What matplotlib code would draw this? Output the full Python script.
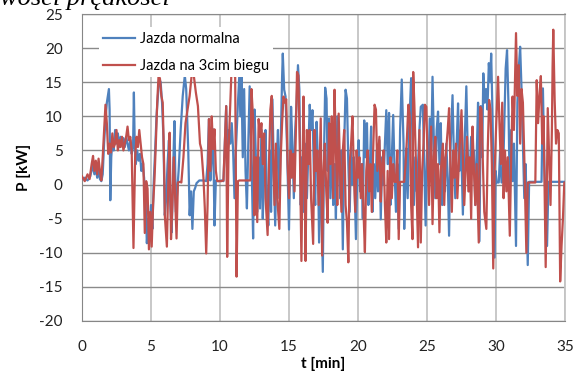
import matplotlib
matplotlib.use("Agg")
import matplotlib.pyplot as plt

plt.rcParams['font.family'] = ['Lato', 'DejaVu Sans']
plt.rcParams['axes.unicode_minus'] = False

# Jazda normalna (t [min], P [kW])
t_normal = [0.0, 0.2, 0.4, 0.6, 0.75, 0.9, 1.0, 1.1, 1.2, 1.3, 1.4, 1.5, 1.6, 1.7, 1.8, 1.95, 2.0, 2.05,
            2.12, 2.2, 2.3, 2.4, 2.5, 2.6, 2.7, 2.8, 2.9, 3.0, 3.1, 3.2, 3.3, 3.4, 3.5, 3.6, 3.7, 3.76,
            3.82, 3.9, 4.0, 4.1, 4.2, 4.3, 4.4, 4.5, 4.6, 4.7, 4.8, 4.9, 5.0, 5.1, 5.2, 5.3, 5.4, 5.5,
            5.6, 5.7, 5.8, 5.9, 6.0, 6.1, 6.2, 6.3, 6.4, 6.5, 6.6, 6.7, 6.8, 6.9, 7.0, 7.15, 7.3, 7.45,
            7.55, 7.7, 7.8, 7.9, 8.0, 8.1, 8.2, 8.3, 8.5, 8.8, 9.0, 9.1, 9.2, 9.3, 9.4, 9.5, 9.6, 9.7,
            9.9, 10.1, 10.25, 10.35, 10.45, 10.55, 10.65, 10.75, 10.85, 10.95, 11.05, 11.15, 11.3,
            11.4, 11.5, 11.55, 11.65, 11.75, 11.85, 11.95, 12.05, 12.15, 12.3, 12.4, 12.5, 12.6, 12.7,
            12.8, 12.9, 13.0, 13.1, 13.2, 13.3, 13.4, 13.5, 13.6, 13.7, 13.8, 13.9, 14.0, 14.1, 14.2,
            14.3, 14.4, 14.5, 14.55, 14.65, 14.75, 14.85, 15.0, 15.07, 15.15, 15.25, 15.35, 15.45,
            15.55, 15.65, 15.75, 15.85, 15.95, 16.05, 16.15, 16.3, 16.4, 16.5, 16.6, 16.7, 16.8, 16.9,
            17.0, 17.1, 17.18, 17.28, 17.45, 17.55, 17.62, 17.72, 17.8, 17.9, 18.0, 18.1, 18.2, 18.3,
            18.4, 18.5, 18.6, 18.7, 18.8, 18.9, 19.0, 19.1, 19.2, 19.3, 19.4, 19.5, 19.6, 19.7, 19.85,
            19.95, 20.05, 20.15, 20.25, 20.35, 20.45, 20.55, 20.65, 20.75, 20.85, 20.95, 21.05, 21.15,
            21.25, 21.35, 21.45, 21.55, 21.65, 21.75, 21.85, 21.95, 22.05, 22.15, 22.25, 22.35, 22.45,
            22.55, 22.65, 22.75, 22.85, 22.95, 23.05, 23.17, 23.3, 23.35, 23.45, 23.5, 23.6, 23.7,
            23.85, 23.95, 24.05, 24.15, 24.25, 24.35, 24.45, 24.55, 24.7, 24.8, 24.9, 25.0, 25.1, 25.2,
            25.3, 25.4, 25.5, 25.6, 25.7, 25.8, 25.9, 26.0, 26.1, 26.2, 26.3, 26.4, 26.5, 26.6, 26.7,
            26.85, 26.95, 27.05, 27.15, 27.25, 27.35, 27.45, 27.6, 27.7, 27.85, 27.95, 28.05, 28.2,
            28.3, 28.4, 28.5, 28.6, 28.7, 28.8, 28.9, 29.0, 29.08, 29.18, 29.28, 29.38, 29.48, 29.58,
            29.65, 29.75, 29.9, 29.97, 30.05, 30.2, 30.3, 30.4, 30.5, 30.6, 30.7, 30.8, 30.9, 31.0,
            31.1, 31.2, 31.3, 31.45, 31.55, 31.65, 31.75, 31.85, 31.95, 32.05, 32.15, 32.3, 32.4,
            32.6, 32.8, 33.0, 33.2, 33.3, 33.4, 33.5, 33.7, 33.8, 34.0, 34.3, 34.6, 35.0]
p_normal = [0.8, 1.0, 0.6, 1.2, 2.8, 1.5, 2.5, 1.0, 2.0, 0.8, 0.5, 1.5, 6.0, 9.5, 12.0, 14.0, 11.0, -2.3,
            4.0, 6.5, 5.0, 8.0, 6.0, 7.5, 5.5, 7.0, 6.0, 6.8, 5.5, 7.0, 6.0, 5.0, 6.5, 4.5, 5.5, 13.5,
            6.0, 3.0, 5.0, 3.5, 4.5, 2.0, 3.0, 1.0, -2.0, -8.6, -5.0, -7.0, -3.0, -6.5, 0.5, 5.0, 10.0, 13.0,
            15.5, 15.0, 12.0, 7.0, -4.5, -2.0, 3.0, 6.5, -3.0, -7.0, 2.0, 9.3, -4.0, -1.0, 2.0, 8.0, 13.0, 16.0,
            14.0, 5.0, -4.5, -1.0, -6.5, -1.0, -0.5, 0.2, 0.6, 0.6, 0.5, 3.0, 9.6, 0.6, 4.0, 8.1, -6.0, 0.6,
            0.5, 0.6, 0.5, 6.0, 11.5, 4.0, 8.0, 6.0, 9.0, 5.0, -2.0, 5.0, 12.0,
            16.0, 10.0, 15.8, 4.0, 14.0, 2.0, -3.5, 6.0, 14.4, 2.0, -7.9, 11.0, 4.0, -4.0,
            4.0, -3.5, 8.0, -5.0, 2.0, 8.0, -2.0, -6.0, 5.0, -4.0, 12.5, 2.0, -6.0, 3.0, 8.0,
            -2.0, 6.0, 15.8, 19.2, 13.9, 12.9, 6.0, -6.6, 1.6, 11.4, 5.5, -2.0, 8.0,
            12.0, 17.5, 14.0, -3.0, 4.0, -4.0, 6.0, -2.0, 5.0, 11.7, 8.0, 10.9, 2.0, -3.0,
            9.2, 3.0, -8.5, 4.0, -12.8, 6.0, 14.2, 12.6, 2.0, 9.7, -2.0, 8.0, -3.0, 3.0,
            -5.0, 10.0, 4.0, -2.0, 5.0, -9.5, 6.0, 13.9, 12.6, 3.0, -4.0, 5.5, 0.0, 4.0, -8.0,
            2.0, 6.5, -1.0, 3.0, -5.0, 9.4, 4.0, 9.0, -3.0, 2.0, 8.5, -4.0, 3.0,
            -2.0, 5.0, -1.0, 6.5, -5.1, 4.0, 0.0, 6.0, 10.9, 3.0, 10.5, -3.0, 4.0,
            10.2, 2.0, -4.0, 3.0, -6.5, 8.0, 15.4, 6.0, -6.5, 2.0, 5.3, -2.0, 8.0,
            15.6, 6.0, -3.0, 4.0, -1.0, 3.0, 8.0, 11.4, 11.7, 3.0, -6.0, 5.0, 2.0, 9.7,
            4.0, 15.8, 6.0, -2.0, 8.0, 10.7, 3.0, 9.0, -3.0, 4.0, -1.0, 6.0, 1.0, -7.5, 5.0,
            13.1, 4.0, -2.0, 6.0, 11.9, 2.0, 8.0, -4.4, 4.0, 14.4, 5.0, -1.0, 7.0,
            2.0, 5.0, -3.0, 4.0, 12.0, -8.3, 11.5, 4.0, 16.3, 12.0, 14.0, 11.0, 17.8, 15.0,
            19.2, 10.0, -10.7, 2.0, 0.3, 0.3, 5.0, 0.3, 0.4, 9.0, 17.0, 19.7, 12.0, -2.0,
            8.0, 0.5, 6.0, -9.0, 12.0, 17.0, 20.2, 14.0, 6.0, -2.0, 3.0, -11.8, 0.4,
            0.4, 0.4, 0.4, 0.4, 0.4, 14.1, 3.0, -9.0, 0.4, 0.4, 0.4, 0.4, 0.4]

# Jazda na 3cim biegu (t [min], P [kW])
t_third = [0.0, 0.2, 0.4, 0.55, 0.7, 0.8, 0.9, 1.0, 1.1, 1.2, 1.3, 1.4, 1.5, 1.6, 1.7, 1.8, 1.9, 2.0,
           2.1, 2.2, 2.3, 2.4, 2.5, 2.6, 2.7, 2.8, 2.9, 3.0, 3.1, 3.2, 3.3, 3.4, 3.5, 3.6, 3.73, 3.85,
           3.95, 4.05, 4.15, 4.25, 4.35, 4.45, 4.55, 4.65, 4.75, 4.85, 4.95, 5.05, 5.15, 5.25, 5.35,
           5.45, 5.55, 5.65, 5.75, 5.85, 5.95, 6.0, 6.15, 6.25, 6.35, 6.45, 6.55, 6.65, 6.75, 6.85,
           6.95, 7.1, 7.2, 7.35, 7.5, 7.65, 7.8, 7.95, 8.1, 8.25, 8.4, 8.55, 8.65, 8.8, 8.9, 9.0, 9.1,
           9.2, 9.3, 9.4, 9.5, 9.6, 9.7, 9.8, 9.95, 10.1, 10.25, 10.35, 10.45, 10.52, 10.62, 10.75,
           10.82, 10.95, 11.1, 11.2, 11.3, 11.4, 11.6, 11.8, 12.0, 12.2, 12.28, 12.4, 12.5, 12.6, 12.7,
           12.8, 12.9, 13.0, 13.1, 13.2, 13.3, 13.45, 13.55, 13.65, 13.75, 13.85, 13.95, 14.05, 14.15,
           14.3, 14.4, 14.5, 14.6, 14.7, 14.8, 14.9, 15.0, 15.1, 15.2, 15.3, 15.4, 15.5, 15.58, 15.68,
           15.78, 15.9, 15.98, 16.05, 16.12, 16.2, 16.3, 16.4, 16.5, 16.6, 16.75, 16.85, 16.95, 17.05,
           17.15, 17.3, 17.4, 17.5, 17.6, 17.7, 17.8, 17.9, 18.0, 18.1, 18.2, 18.3, 18.4, 18.5, 18.6,
           18.7, 18.8, 18.9, 19.0, 19.1, 19.2, 19.3, 19.4, 19.5, 19.6, 19.7, 19.8, 19.9, 20.0, 20.1,
           20.2, 20.3, 20.4, 20.5, 20.6, 20.7, 20.8, 20.9, 21.0, 21.1, 21.2, 21.3, 21.4, 21.55, 21.65,
           21.75, 21.85, 21.95, 22.05, 22.15, 22.25, 22.35, 22.45, 22.55, 22.65, 22.75, 22.85, 22.95,
           23.05, 23.2, 23.35, 23.45, 23.55, 23.65, 23.75, 23.85, 23.95, 24.0, 24.08, 24.2, 24.35,
           24.45, 24.55, 24.65, 24.75, 24.85, 24.95, 25.05, 25.15, 25.3, 25.4, 25.5, 25.6, 25.7, 25.8,
           25.9, 26.0, 26.15, 26.25, 26.35, 26.5, 26.6, 26.7, 26.8, 26.9, 27.0, 27.1, 27.2, 27.35,
           27.5, 27.6, 27.7, 27.8, 27.9, 28.0, 28.1, 28.2, 28.3, 28.4, 28.5, 28.6, 28.75, 28.85, 28.95,
           29.05, 29.15, 29.3, 29.4, 29.5, 29.6, 29.7, 29.8, 29.9, 30.0, 30.15, 30.25, 30.35, 30.45,
           30.55, 30.65, 30.75, 30.85, 31.0, 31.1, 31.2, 31.3, 31.45, 31.55, 31.65, 31.75, 31.85,
           31.95, 32.05, 32.2, 32.3, 32.5, 32.7, 32.85, 32.95, 33.05, 33.15, 33.25, 33.35, 33.45,
           33.6, 33.7, 33.75, 33.85, 33.95, 34.05, 34.1, 34.15, 34.25, 34.35, 34.45, 34.55, 34.65,
           34.75, 34.85, 34.95, 35.0]
p_third = [1.2, 0.5, 1.5, 0.8, 3.0, 4.2, 2.0, 3.5, 1.5, 3.8, 2.0, 0.6, 4.0, 8.0, 11.7, 9.0, 4.5, 6.0,
           4.7, 7.5, 5.5, 6.0, 8.0, 5.0, 6.5, 5.5, 7.0, 5.0, 6.0, 7.0, 8.5, 6.5, 7.0, 5.0, -9.3, 4.0,
           7.0, 5.5, 8.0, 6.0, 4.0, 3.0, -7.1, 0.5, -0.6, -9.5, -4.0, -9.1, -3.0, 0.6, 6.0,
           12.0, 16.1, 15.5, 13.0, 12.0, 3.0, -4.5, -9.1, 0.0, 7.6, -8.0, -3.0, 4.0, -2.0, -7.9,
           0.3, 0.4, 0.3, 4.0, 9.0, 11.0, 13.0, 16.1, 16.0, 13.5, 11.5, 6.0, 5.2, 1.0, -3.5, -10.1, -3.0,
           9.6, 2.0, 10.0, 5.2, 8.1, 2.0, 0.5, 0.5, 0.5, 0.6, 6.0, 11.5, -10.6, 5.0, 12.0,
           16.0, 16.0, 15.8, -13.5, 0.5, 0.6, 0.6, 0.6, 0.6, 0.6, 14.0, 9.6, -4.5, 4.0, -5.5,
           9.6, 7.0, 9.0, 3.0, 7.5, -2.0, -7.4, 3.0, 11.0, 13.0, 4.0, -3.0, 6.0, -2.0,
           -6.5, 4.0, 9.0, 12.9, 12.0, 12.5, 3.0, -2.0, 5.0, 1.0, 4.5, -1.0, 8.0, 16.5, 16.0,
           6.0, -11.2, 2.0, 12.9, 4.0, -11.2, 8.0, 3.0, 8.0, -2.0, -8.7, 8.0, 2.0, 5.0,
           -3.0, 9.7, -10.4, 2.0, 6.0, -1.0, -5.6, 9.0, 3.0, 10.0, -2.0, 13.9, 5.0, -3.0, 10.4,
           2.0, -4.0, 5.0, 8.0, -3.0, -5.5, -11.4, 3.0, 6.0, 10.0, 2.0, -4.0, 5.0, 1.0, 4.0,
           -2.0, 3.0, -4.0, -9.9, 2.0, 5.0, -1.0, 3.0, -4.0, 5.0, 11.7, 11.0, 2.0, 7.0, -2.5,
           3.0, 5.0, -3.0, -8.5, 2.0, -8.0, 4.0, -2.0, 3.0, 0.4, 0.4, 5.0, -8.0,
           0.4, 0.4, 0.4, 3.0, 7.0, 11.7, 10.0, -3.0, -8.0, 16.5, 12.0, 3.0, -9.2,
           8.0, -8.5, 2.0, 6.0, 11.7, 11.4, 3.0, -3.0, 8.5, -5.8, 4.0, 7.0, -2.0, 3.0,
           -7.0, 2.0, 6.0, -3.0, 4.0, 8.0, 11.2, 3.0, -4.0, 5.0, 1.0, 6.0, -2.0, 5.0,
           10.9, 4.0, -3.0, 2.0, 7.0, -1.0, 4.0, -5.0, 8.5, 2.0, -3.0, 3.0, -8.5, 11.4, 11.0,
           3.0, -4.0, -6.5, 5.0, 12.4, 11.0, 3.0, -12.3, 2.0, 8.0, 15.8, 9.0, 3.0, 12.0,
           -2.0, 5.0, -1.0, 4.0, -7.5, 4.0, 12.9, 8.0, 22.2, 13.0, 17.5, 6.0, 14.0,
           12.0, 4.0, -10.0, 0.3, 0.3, 0.3, 0.3, 15.3, 9.0, 13.0, 15.9, 6.0, 10.0,
           -12.1, 2.0, 11.2, 4.0, -3.0, 8.0, 17.3, 22.7, 12.4, 6.0, 8.0, 7.5, -14.2,
           -9.0, -5.0, 0.3, 0.3]

x_ticks = [0, 5, 10, 15, 20, 25, 30, 35]
y_ticks = [-20, -15, -10, -5, 0, 5, 10, 15, 20, 25]

fig = plt.figure(figsize=(5.78, 3.88), dpi=100)
ax = fig.add_axes([82 / 578, 1 - 321 / 388, 483 / 578, 307 / 388])

ax.plot(t_normal, p_normal, color='#4F81BD', lw=1.6, label='Jazda normalna', zorder=3)
ax.plot(t_third, p_third, color='#C0504D', lw=1.6, label='Jazda na 3cim biegu', zorder=4)

ax.set_xlim(0, 35)
ax.set_ylim(-20, 25)
ax.set_xticks(x_ticks)
ax.set_yticks(y_ticks)
ax.tick_params(length=0, labelsize=11, labelcolor='#222222')
ax.tick_params(axis='x', pad=14)
ax.tick_params(axis='y', pad=14)

ax.grid(axis='y', color='#8a8a8a', lw=1.0, zorder=0)
ax.grid(axis='x', color='#c4c4c4', lw=1.3, zorder=0)
ax.spines['left'].set_color('#868686')
ax.spines['bottom'].set_color('#868686')
ax.spines['top'].set_color('#8a8a8a')
ax.spines['right'].set_color('#c4c4c4')
ax.spines['right'].set_linewidth(1.3)

ax.set_xlabel('t [min]', fontsize=11, fontweight='bold', labelpad=2)
ax.set_ylabel('P [kW]', fontsize=11, fontweight='bold', labelpad=6)

leg = ax.legend(loc='upper left', bbox_to_anchor=(0.02, 0.98), frameon=True, fontsize=10.5,
                handlelength=2.2, labelspacing=0.9, borderpad=0.3, handletextpad=0.3)
leg.get_frame().set_edgecolor('none')
leg.get_frame().set_facecolor('white')
leg.get_frame().set_alpha(1.0)
leg.set_zorder(5)

# cut-off line of text above the chart
fig.text(0.0, 1 - 5 / 388, 'wości prędkości', fontsize=19, style='italic',
         family=['Liberation Serif', 'DejaVu Serif'], va='baseline', ha='left')

fig.savefig('out.png', dpi=100)
